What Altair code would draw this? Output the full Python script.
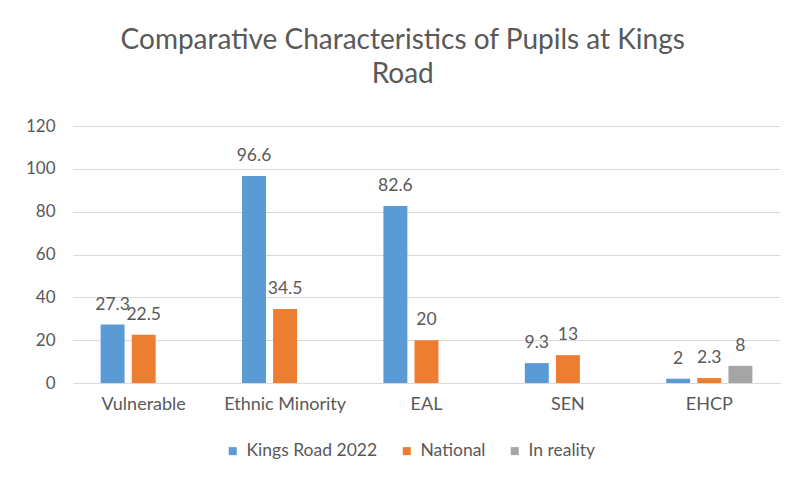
import altair as alt
import pandas as pd

categories = ["Vulnerable", "Ethnic Minority", "EAL", "SEN", "EHCP"]
series = ["Kings Road 2022", "National", "In reality"]
kings_road = [27.3, 96.6, 82.6, 9.3, 2]
national = [22.5, 34.5, 20, 13, 2.3]
in_reality = [None, None, None, None, 8]
colors = ["#5B9BD5", "#ED7D31", "#A5A5A5"]
y_ticks = [0, 20, 40, 60, 80, 100, 120]
title_lines = ["Comparative Characteristics of Pupils at Kings", "Road"]

rows = []
for s, vals in zip(series, [kings_road, national, in_reality]):
    for c, v in zip(categories, vals):
        if v is not None:
            rows.append({"category": c, "series": s, "value": v, "label": f"{v:g}"})
df = pd.DataFrame(rows)

font = "Lato"
text_color = "#595959"
grid_color = "#D9D9D9"

base = alt.Chart(df).encode(
    x=alt.X(
        "category:N",
        sort=categories,
        scale=alt.Scale(domain=categories, paddingInner=0.34, paddingOuter=0.17),
        axis=alt.Axis(
            title=None, labelAngle=0, ticks=False, domainColor=grid_color,
            labelFontSize=18, labelColor=text_color, labelPadding=12, labelFont=font,
        ),
    ),
    xOffset=alt.XOffset(
        "series:N",
        scale=alt.Scale(domain=series, paddingInner=0.23, paddingOuter=0.115),
    ),
    y=alt.Y(
        "value:Q",
        scale=alt.Scale(domain=[0, 120]),
        axis=alt.Axis(
            values=y_ticks, title=None, ticks=False, domain=False,
            gridColor=grid_color, labelFontSize=17, labelColor=text_color,
            labelPadding=18, labelFont=font,
        ),
    ),
)

bars = base.mark_bar().encode(
    color=alt.Color(
        "series:N",
        scale=alt.Scale(domain=series, range=colors),
        legend=alt.Legend(
            title=None, orient="none", direction="horizontal",
            legendX=151, legendY=316, symbolType="square", symbolSize=64,
            symbolStrokeWidth=0, labelFontSize=17.5, labelColor=text_color,
            labelFont=font, columnPadding=20, labelOffset=5,
        ),
    )
)

text = base.mark_text(
    baseline="bottom", dy=-11, fontSize=17.5, color=text_color, font=font
).encode(text="label:N")

chart = (
    alt.layer(bars, text)
    .properties(
        width=707,
        height=257,
        autosize=alt.AutoSizeParams(type="none"),
        padding={"left": 65, "top": 118, "right": 21, "bottom": 92},
        title=alt.TitleParams(
            text=title_lines, anchor="middle", frame="bounds", fontSize=28,
            font=font, fontWeight="normal", color=text_color, offset=28,
            lineHeight=34,
        ),
    )
    .configure_view(stroke=None)
)

chart.save("out.html", embed_options={"renderer": "svg", "actions": False})
